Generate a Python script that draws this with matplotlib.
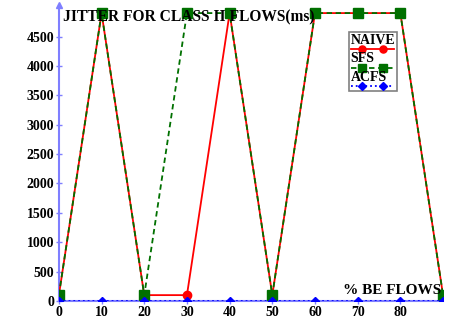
import matplotlib
matplotlib.use("Agg")
import matplotlib.pyplot as plt
from matplotlib.lines import Line2D
from matplotlib.offsetbox import TextArea, DrawingArea, VPacker, AnchoredOffsetbox

# % BE flows vs jitter of class II flows (ms)
be_flows = [0, 10, 20, 30, 40, 50, 60, 70, 80, 90]
naive = [100, 4900, 100, 100, 4900, 100, 4900, 4900, 4900, 100]
sfs = [100, 4900, 100, 4900, 4900, 100, 4900, 4900, 4900, 100]
acfs = [0, 0, 0, 0, 0, 0, 0, 0, 0, 0]

series = [
    ("NAIVE", naive, dict(color="#ff0000", ls="-", marker="o", ms=6, lw=1.3)),
    ("SFS", sfs, dict(color="#007000", ls=(0, (3, 2)), marker="s", ms=6.5, lw=1.3)),
    ("ACFS", acfs, dict(color="#0000ff", ls=":", marker="D", ms=4.5, lw=1.3)),
]

plt.rcParams["font.family"] = ["Liberation Serif", "DejaVu Serif"]
plt.rcParams["font.weight"] = "bold"

fig = plt.figure(figsize=(4.53, 3.24), dpi=100)
ax = fig.add_axes([0.130, 0.071, 0.848, 0.914])
axis_blue = "#7f7fff"

for name, vals, style in series:
    ax.plot(be_flows, vals, label=name, clip_on=True, zorder=3, **style)

ax.set_xlim(0, 90)
ax.set_ylim(0, 5040)
ax.set_xticks(range(0, 90, 10))
ax.set_yticks(range(0, 5000, 500))

for side in ("top", "right"):
    ax.spines[side].set_visible(False)
for side in ("left", "bottom"):
    ax.spines[side].set_color(axis_blue)
    ax.spines[side].set_linewidth(1.5)
ax.tick_params(colors=axis_blue, direction="inout", length=5, width=1)
ax.tick_params(labelcolor="black", labelsize=10)
for lab in ax.get_xticklabels() + ax.get_yticklabels():
    lab.set_fontweight("bold")
ax.tick_params(axis="x", pad=1)
ax.tick_params(axis="y", pad=1)

# arrow head at top of the y axis
ax.plot([0], [5040], marker="^", color=axis_blue, ms=4, clip_on=False, zorder=4)

ax.text(0.01, 0.985, "JITTER FOR CLASS II FLOWS(ms)", transform=ax.transAxes,
        ha="left", va="top", fontsize=11.2, fontweight="bold")
ax.text(0.995, 0.015, "% BE FLOWS", transform=ax.transAxes,
        ha="right", va="bottom", fontsize=11, fontweight="bold")

# legend with the label above each line sample
items = []
for name, vals, style in series:
    items.append(TextArea(name, textprops=dict(fontsize=10, fontweight="bold")))
    da = DrawingArea(31, 4, 0, 0)
    da.add_artist(Line2D([0, 31], [2, 2], color=style["color"], ls=style["ls"],
                         lw=style["lw"]))
    da.add_artist(Line2D([8, 23], [2, 2], color=style["color"], ls="none",
                         marker=style["marker"], ms=style["ms"] * 0.85))
    items.append(da)
pack = VPacker(children=items, align="left", pad=0, sep=0)
leg = AnchoredOffsetbox(loc="upper left", child=pack, pad=0.15, borderpad=0,
                        frameon=True, bbox_to_anchor=(0.754, 0.91),
                        bbox_transform=ax.transAxes)
leg.patch.set_edgecolor("#808080")
leg.patch.set_linewidth(1.2)
leg.zorder = 5
ax.add_artist(leg)

fig.savefig("out.png", dpi=100)
